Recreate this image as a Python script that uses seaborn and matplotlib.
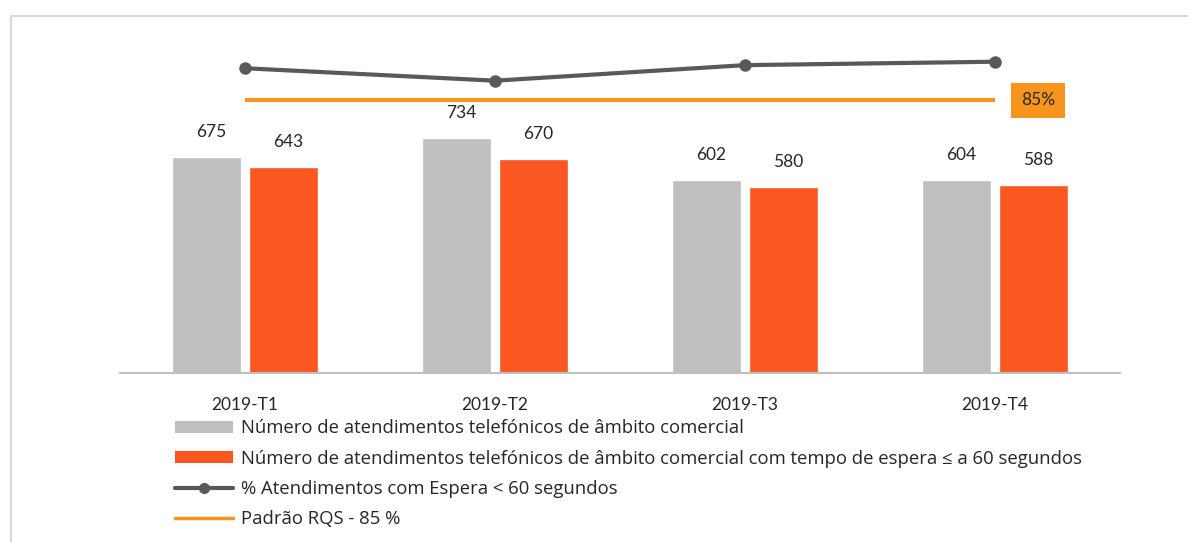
import numpy as np
import pandas as pd
import matplotlib
matplotlib.use("Agg")
import matplotlib.pyplot as plt
from matplotlib.patches import Rectangle, Patch
from matplotlib.lines import Line2D
import seaborn as sns

# ---- data ----
trimestres = ["2019-T1", "2019-T2", "2019-T3", "2019-T4"]
atendimentos = [675, 734, 602, 604]
atendimentos_60s = [643, 670, 580, 588]
pct_espera = [95.3, 91.3, 96.3, 97.4]
padrao_rqs = 85

serie1 = "Número de atendimentos telefónicos de âmbito comercial"
serie2 = "Número de atendimentos telefónicos de âmbito comercial com tempo de espera ≤ a 60 segundos"
serie3 = "% Atendimentos com Espera < 60 segundos"
serie4 = "Padrão RQS - 85 %"

GREY = "#bfbfbf"
ORANGE = "#fa5722"
DARK = "#595959"
GOLD = "#f7941d"

sns.set_theme(style="white")
plt.rcParams["font.family"] = ["Lato", "DejaVu Sans"]

df = pd.DataFrame({
    "trimestre": trimestres * 2,
    "valor": atendimentos + atendimentos_60s,
    "serie": [serie1] * 4 + [serie2] * 4,
})

fig = plt.figure(figsize=(11.88, 5.42), dpi=100)
ax = fig.add_axes([120 / 1188, 1 - 373 / 542, 1000 / 1188, 343 / 542])

sns.barplot(data=df, x="trimestre", y="valor", hue="serie",
            palette=[GREY, ORANGE], width=0.616, gap=0.104,
            saturation=1, legend=False, ax=ax)
ax.set_xlim(-0.5, 3.5)
ax.set_ylim(0, 1072)
ax.set_xlabel("")
ax.set_ylabel("")
ax.set_yticks([])
for s in ["top", "left", "right"]:
    ax.spines[s].set_visible(False)
ax.spines["bottom"].set_color(GREY)
ax.spines["bottom"].set_linewidth(1.5)
ax.tick_params(axis="x", length=0, pad=17, labelsize=12.5, labelcolor="#262626")

for cont in ax.containers:
    for bar in cont:
        h = bar.get_height()
        ax.annotate(f"{h:.0f}", (bar.get_x() + bar.get_width() / 2 + 0.02, h),
                    xytext=(0, 18), textcoords="offset points",
                    ha="center", va="center", fontsize=12.5, color="#262626")

ax2 = ax.twinx()
ax2.set_ylim(-2.7, 107.6)
x = np.arange(len(trimestres))
sns.lineplot(x=[0, 3], y=[padrao_rqs, padrao_rqs], color=GOLD, linewidth=3,
             ax=ax2, solid_capstyle="butt")
sns.lineplot(x=x, y=pct_espera, color=DARK, linewidth=3, marker="o",
             markersize=9, markeredgewidth=0, ax=ax2)
ax2.set_yticks([])
ax2.set_ylabel("")
for s in ax2.spines.values():
    s.set_visible(False)

ax2.text(3.172, padrao_rqs, "85%", ha="center", va="center", fontsize=12.5,
         color="#262626",
         bbox=dict(boxstyle="square,pad=0.55", facecolor=GOLD, edgecolor="none"))

handles = [
    Patch(facecolor=GREY, edgecolor="none"),
    Patch(facecolor=ORANGE, edgecolor="none"),
    Line2D([], [], color=DARK, linewidth=3, marker="o", markersize=7),
    Line2D([], [], color=GOLD, linewidth=2.5),
]
fig.legend(handles, [serie1, serie2, serie3, serie4], loc="upper left",
           bbox_to_anchor=(166 / 1188, 1 - 410 / 542), frameon=False,
           prop={"family": ["Open Sans", "DejaVu Sans"], "size": 13.3},
           handlelength=3.14, handleheight=0.65,
           labelspacing=0.67, handletextpad=0.43, borderpad=0,
           labelcolor="#262626")

fig.patches.append(Rectangle((10.5 / 1188, -0.1), 1.2, 1 - 15.5 / 542 + 0.1,
                             transform=fig.transFigure, fill=False,
                             edgecolor="#d9d9d9", linewidth=1.5))

fig.savefig("out.png", dpi=100)
